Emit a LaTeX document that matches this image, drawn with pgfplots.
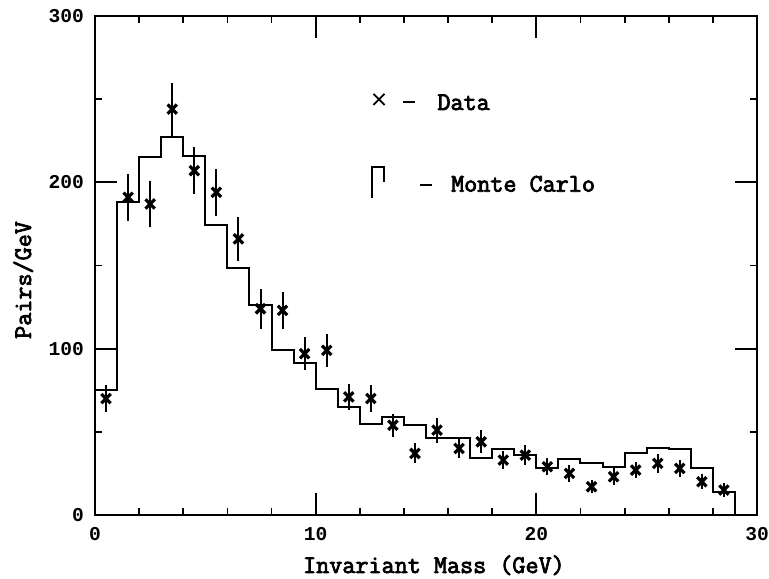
\documentclass[border=0pt]{standalone}
\usepackage{fontspec}
\setmainfont{Liberation Mono}
\newfontfamily\typerfont[FakeBold=3]{Latin Modern Mono}
\usepackage{pgfplots}
\usepackage{pgfplotstable}
\pgfplotsset{compat=1.18}

% Monte Carlo histogram: left bin edge, height (bins of 1 GeV)
\pgfplotstableread{
x    y
0    75
1    188
2    215.5
3    227
4    216
5    174.5
6    148.5
7    126
8    99
9    91.5
10   75.5
11   65
12   54.5
13   59
14   54
15   46
16   46
17   34
18   39.5
19   36
20   28
21   33.5
22   31.5
23   29
24   37.5
25   40.5
26   39.5
27   28
28   14
29   14
29   0
}\mctable

% Measured pairs per GeV with statistical errors
\pgfplotstableread{
x     y     e
0.5   70    8
1.5   191   14
2.5   187   14
3.5   244   16
4.5   207   14
5.5   194   14
6.5   166   13
7.5   124   12
8.5   123   11
9.5   97    10
10.5  99    10
11.5  71    8
12.5  70    8
13.5  54    7
14.5  37    6
15.5  51    7.5
16.5  40    5.5
17.5  44    7
18.5  33    5.5
19.5  36    6
20.5  29    5
21.5  25    5
22.5  17    4
23.5  23    5
24.5  27    5
25.5  31    5.5
26.5  28    5
27.5  20    4.5
28.5  15    4
}\datatable

\newcommand\labfont{\typerfont\fontsize{12.7}{14}\selectfont}

\begin{document}
\begin{tikzpicture}
\useasboundingbox (-47.5pt,-31.5pt) rectangle (337pt,257.5pt);
\begin{axis}[
  at={(0pt,0pt)}, anchor=south west,
  scale only axis, width=331pt, height=249.5pt,
  xmin=0, xmax=30, ymin=0, ymax=300,
  xtick={0,10,20,30}, ytick={0,100,200,300},
  minor xtick={2,4,6,8,12,14,16,18,22,24,26,28},
  minor ytick={50,150,250},
  tick align=inside,
  major tick length=11pt, minor tick length=3.5pt,
  axis line style={line width=1pt},
  every tick/.style={black, line width=0.9pt},
  /pgf/number format/assume math mode=true,
  ticklabel style={font=\fontsize{9.8}{11}\selectfont\bfseries},
  xticklabel style={yshift=-2.5pt},
  yticklabel style={xshift=-2pt},
  label style={font=\labfont},
  xlabel={Invariant Mass (GeV)},
  ylabel={Pairs/GeV},
  xlabel style={at={(axis description cs:0.512,-0.1162)}, anchor=base},
  ylabel style={at={(axis description cs:-0.0967,0.471)}, anchor=base, rotate=0},
  clip=false,
]
\addplot[const plot, black, line width=1pt, mark=none] table[x=x,y=y] {\mctable};
\addplot[black, line width=1pt, mark=none] coordinates {(0,100) (1,100)};
\addplot[only marks, black, mark=x, mark size=3.3pt,
  mark options={line width=1.6pt},
  error bars/.cd, y dir=both, y explicit, error mark=none,
  error bar style={line width=1pt}]
  table[x=x, y=y, y error=e] {\datatable};

% key
\draw[black, line width=0.9pt] (axis cs:12.62,253.2) -- (axis cs:13.12,246.5);
\draw[black, line width=0.9pt] (axis cs:12.62,246.5) -- (axis cs:13.12,253.2);
\draw[black, line width=1pt] (axis cs:13.96,248.5) -- (axis cs:14.50,248.5);
\node[font=\labfont, anchor=base west, inner sep=0pt] at (axis cs:15.50,243.5) {Data};
\draw[black, line width=1pt] (axis cs:12.55,190.6) -- (axis cs:12.55,209.3) -- (axis cs:13.09,209.3) -- (axis cs:13.09,200.2);
\draw[black, line width=1pt] (axis cs:14.73,198.4) -- (axis cs:15.27,198.4);
\node[font=\labfont, anchor=base west, inner sep=0pt] at (axis cs:16.12,194.4) {Monte Carlo};
\end{axis}
\end{tikzpicture}
\end{document}
